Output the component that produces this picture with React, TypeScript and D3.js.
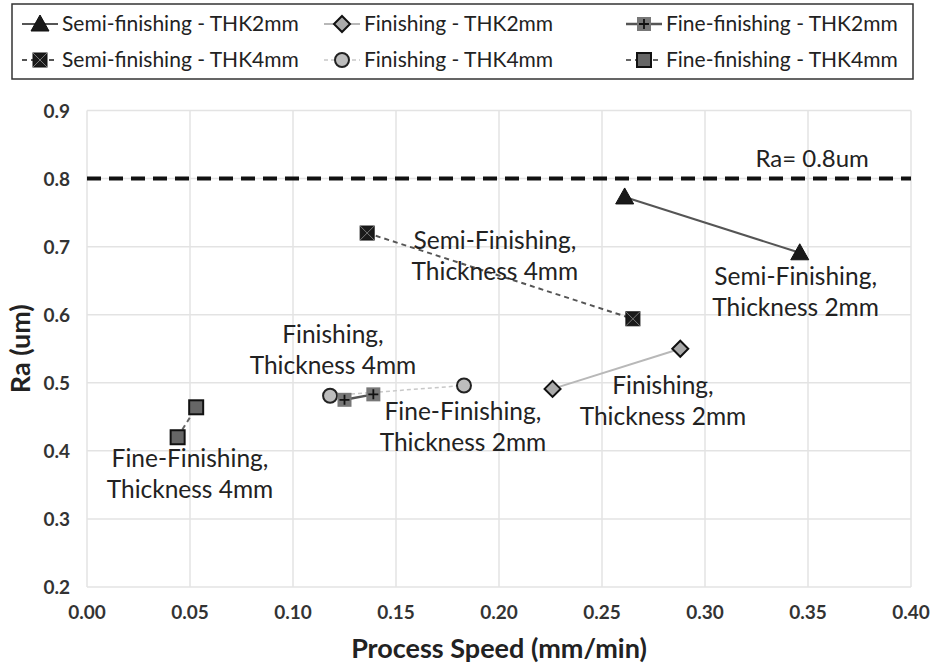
import React from "react";
import * as d3 from "d3";

const xTicks = [0, 0.05, 0.1, 0.15, 0.2, 0.25, 0.3, 0.35, 0.4];
const yTicks = [0.2, 0.3, 0.4, 0.5, 0.6, 0.7, 0.8, 0.9];

const semiTHK2X = [0.261, 0.346];
const semiTHK2Y = [0.773, 0.691];
const semiTHK4X = [0.136, 0.265];
const semiTHK4Y = [0.72, 0.594];
const finTHK2X = [0.226, 0.288];
const finTHK2Y = [0.491, 0.55];
const finTHK4X = [0.118, 0.183];
const finTHK4Y = [0.481, 0.496];
const fineTHK2X = [0.125, 0.139];
const fineTHK2Y = [0.475, 0.483];
const fineTHK4X = [0.044, 0.053];
const fineTHK4Y = [0.42, 0.464];

const raLimit = 0.8;

const seriesNames = [
  "Semi-finishing - THK2mm",
  "Finishing - THK2mm",
  "Fine-finishing - THK2mm",
  "Semi-finishing - THK4mm",
  "Finishing - THK4mm",
  "Fine-finishing - THK4mm",
];

const annotationText = [
  ["Semi-Finishing,", "Thickness 2mm"],
  ["Semi-Finishing,", "Thickness 4mm"],
  ["Finishing,", "Thickness 4mm"],
  ["Finishing,", "Thickness 2mm"],
  ["Fine-Finishing,", "Thickness 2mm"],
  ["Fine-Finishing,", "Thickness 4mm"],
];
const annotationX = [0.344, 0.198, 0.1194, 0.2796, 0.1825, 0.05];
const annotationY = [0.644, 0.6966, 0.5585, 0.4835, 0.4453, 0.3763];

const FONT = "Lato, 'Open Sans', sans-serif";

type Style = {
  marker: string;
  fill: string;
  line: string;
  width: number;
  dash?: string;
};

const styles: Style[] = [
  { marker: "triangle", fill: "#1a1a1a", line: "#555", width: 2 },
  { marker: "diamond", fill: "#aaaaaa", line: "#b8b8b8", width: 2 },
  { marker: "plus", fill: "#777", line: "#555", width: 2.5 },
  { marker: "xsquare", fill: "#1a1a1a", line: "#555", width: 2, dash: "5,4" },
  { marker: "circle", fill: "#bdbdbd", line: "#c8c8c8", width: 1.5, dash: "4,3" },
  { marker: "square", fill: "#666", line: "#666", width: 2, dash: "5,4" },
];

function Marker({ type, x, y, fill }: { type: string; x: number; y: number; fill: string }) {
  const s = 7;
  switch (type) {
    case "triangle":
      return (
        <path
          d={`M${x},${y - 9} L${x + 9},${y + 7} L${x - 9},${y + 7} Z`}
          fill={fill}
          stroke="#111"
          strokeWidth={1}
        />
      );
    case "diamond":
      return (
        <path
          d={`M${x},${y - 8} L${x + 8},${y} L${x},${y + 8} L${x - 8},${y} Z`}
          fill={fill}
          stroke="#111"
          strokeWidth={2}
        />
      );
    case "circle":
      return <circle cx={x} cy={y} r={7} fill={fill} stroke="#222" strokeWidth={2} />;
    case "plus":
      return (
        <g>
          <rect x={x - s} y={y - s} width={2 * s} height={2 * s} fill={fill} stroke="none" />
          <path d={`M${x - 5},${y} H${x + 5} M${x},${y - 5} V${y + 5}`} stroke="#111" strokeWidth={1.8} />
        </g>
      );
    case "xsquare":
      return (
        <g>
          <rect x={x - s} y={y - s} width={2 * s} height={2 * s} fill={fill} stroke="#111" strokeWidth={1} />
          <path
            d={`M${x - s},${y - s} L${x + s},${y + s} M${x + s},${y - s} L${x - s},${y + s}`}
            stroke="#777"
            strokeWidth={1}
          />
        </g>
      );
    case "square":
    default:
      return (
        <rect x={x - s} y={y - s} width={2 * s} height={2 * s} fill={fill} stroke="#111" strokeWidth={2} />
      );
  }
}

export default function App() {
  const W = 930;
  const H = 666;
  const left = 87;
  const right = 911;
  const top = 110.5;
  const bottom = 587;

  const x = d3.scaleLinear().domain([0, 0.4]).range([left, right]);
  const y = d3.scaleLinear().domain([0.2, 0.9]).range([bottom, top]);

  const seriesX = [semiTHK2X, finTHK2X, fineTHK2X, semiTHK4X, finTHK4X, fineTHK4X];
  const seriesY = [semiTHK2Y, finTHK2Y, fineTHK2Y, semiTHK4Y, finTHK4Y, fineTHK4Y];

  const line = d3
    .line<[number, number]>()
    .x((d) => x(d[0]))
    .y((d) => y(d[1]));

  const order = [0, 3, 1, 4, 2, 5];

  const legendCols = [22, 324, 626];
  const legendRows = [24, 60];

  return (
    <svg
      width={W}
      height={H}
      style={{ position: "absolute", left: 0, top: 0, background: "#fff" }}
      fontFamily={FONT}
    >
      <rect x={0} y={0} width={W} height={H} fill="#fff" />
      {xTicks.map((t) => (
        <line key={"gx" + t} x1={x(t)} x2={x(t)} y1={top} y2={bottom} stroke="#e3e3e3" strokeWidth={1.5} />
      ))}
      {yTicks.map((t) => (
        <line key={"gy" + t} x1={left} x2={right} y1={y(t)} y2={y(t)} stroke="#e3e3e3" strokeWidth={1.5} />
      ))}
      {xTicks.map((t) => (
        <text
          key={"tx" + t}
          x={x(t)}
          y={619}
          textAnchor="middle"
          fontSize={19}
          fontWeight="bold"
          fill="#333"
        >
          {d3.format(".2f")(t)}
        </text>
      ))}
      {yTicks.map((t) => (
        <text
          key={"ty" + t}
          x={70}
          y={y(t) + 7}
          textAnchor="end"
          fontSize={19}
          fontWeight="bold"
          fill="#333"
        >
          {d3.format(".1f")(t)}
        </text>
      ))}
      <text x={499} y={658} textAnchor="middle" fontSize={27} fontWeight="bold" fill="#222">
        Process Speed (mm/min)
      </text>
      <text
        transform={`translate(30,${(top + bottom) / 2}) rotate(-90)`}
        textAnchor="middle"
        fontSize={27}
        fontWeight="bold"
        fill="#222"
      >
        Ra (um)
      </text>

      <line
        x1={left}
        x2={right}
        y1={y(raLimit)}
        y2={y(raLimit)}
        stroke="#111"
        strokeWidth={4}
        strokeDasharray="14,8"
      />
      <text x={x(0.352)} y={y(0.817)} textAnchor="middle" fontSize={24} fill="#222">
        Ra= 0.8um
      </text>

      {order.map((i) => {
        const pts = seriesX[i].map((v, k) => [v, seriesY[i][k]] as [number, number]);
        return (
          <path
            key={"l" + i}
            d={line(pts) || ""}
            fill="none"
            stroke={styles[i].line}
            strokeWidth={styles[i].width}
            strokeDasharray={styles[i].dash}
          />
        );
      })}
      {order.map((i) => (
        <g key={"m" + i}>
          {seriesX[i].map((v, k) => (
            <Marker key={k} type={styles[i].marker} x={x(v)} y={y(seriesY[i][k])} fill={styles[i].fill} />
          ))}
        </g>
      ))}

      {annotationText.map((lines, i) => (
        <text
          key={"a" + i}
          x={x(annotationX[i])}
          y={y(annotationY[i])}
          textAnchor="middle"
          fontSize={24.5}
          fill="#222"
        >
          {lines.map((l, k) => (
            <tspan key={k} x={x(annotationX[i])} dy={k === 0 ? 0 : 31}>
              {l}
            </tspan>
          ))}
        </text>
      ))}

      <rect x={12} y={4} width={901} height={75} fill="#fff" stroke="#333" strokeWidth={1.5} />
      {seriesNames.map((name, i) => {
        const cx = legendCols[i % 3];
        const cy = legendRows[Math.floor(i / 3)];
        const st = styles[i];
        return (
          <g key={"lg" + i}>
            <line
              x1={cx}
              x2={cx + 36}
              y1={cy}
              y2={cy}
              stroke={st.line}
              strokeWidth={st.width}
              strokeDasharray={st.dash}
            />
            <Marker type={st.marker} x={cx + 18} y={cy} fill={st.fill} />
            <text x={cx + 40} y={cy + 7} fontSize={21} fill="#222">
              {name}
            </text>
          </g>
        );
      })}
    </svg>
  );
}
